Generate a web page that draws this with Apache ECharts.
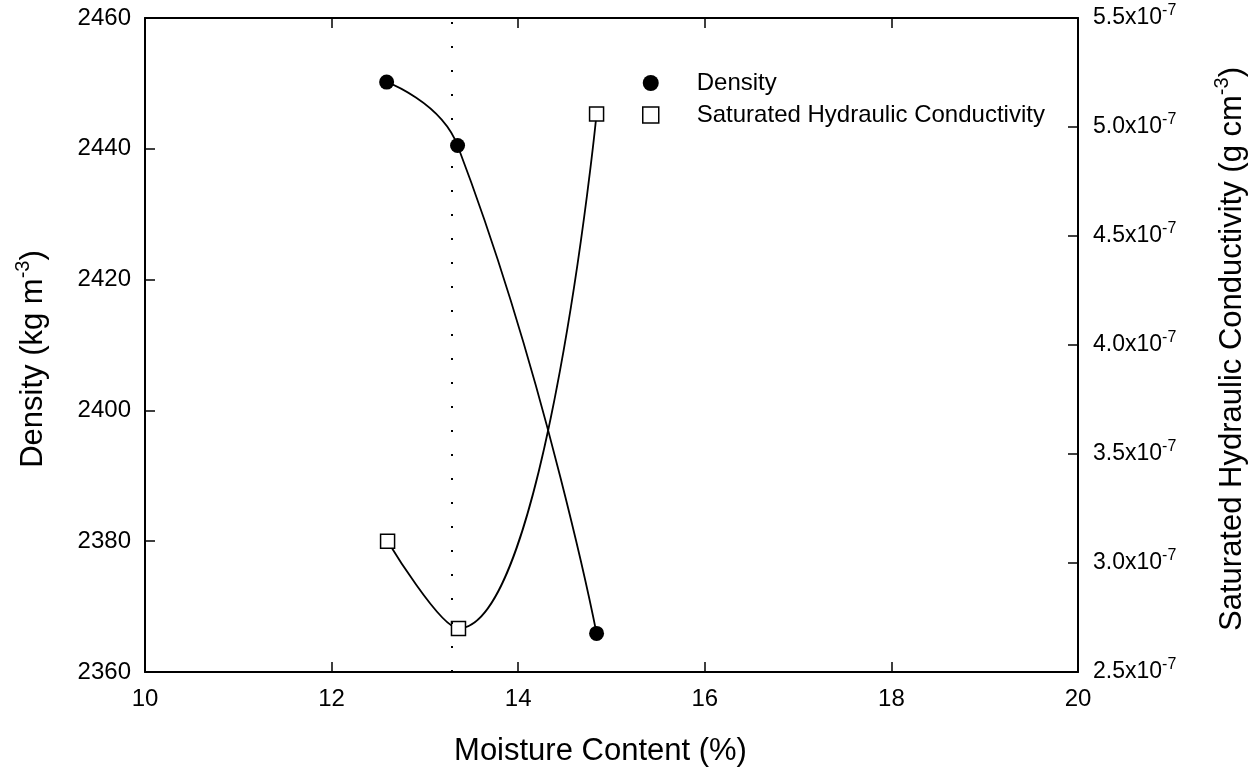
<!DOCTYPE html>
<html lang="en">
<head>
    <meta charset="UTF-8">
    <title>Density and Conductivity</title>
    <script src="https://cdn.jsdelivr.net/npm/echarts@6/dist/echarts.min.js"></script>
    <style>
        body { margin: 0; background: #fff; }
        #main { width: 1252px; height: 772px; }
    </style>
</head>
<body>
    <div id="main"></div>
    <script>
        var densityMoisture = [12.59, 13.35, 14.84];
        var density = [2450.2, 2440.5, 2365.9];
        var conductivityMoisture = [12.60, 13.36, 14.84];
        var conductivity = [3.10e-7, 2.70e-7, 5.06e-7];
        var optimumMoisture = 13.29;
        var xTicks = [10, 12, 14, 16, 18, 20];
        var densityTicks = [2360, 2380, 2400, 2420, 2440, 2460];
        var conductivityTicks = [2.5e-7, 3.0e-7, 3.5e-7, 4.0e-7, 4.5e-7, 5.0e-7, 5.5e-7];

        var font = '"Liberation Sans", Arial, sans-serif';
        var black = '#000';

        function pairs(xs, ys) {
            var out = [];
            for (var i = 0; i < xs.length; i++) {
                out.push([xs[i], ys[i]]);
            }
            return out;
        }

        function initChart() {
            var mychart = echarts.init(document.getElementById('main'));
            var axisLine = { show: true, lineStyle: { color: black, width: 2 } };
            var axisTick = { show: true, inside: true, length: 10, lineStyle: { color: black, width: 1.5 } };
            var labelRich = {
                a: { fontSize: 23, fontFamily: font, color: black, lineHeight: 30 },
                s: { fontSize: 16, fontFamily: font, color: black, lineHeight: 16, verticalAlign: 'top' }
            };
            var nameRich = {
                a: { fontSize: 31, fontFamily: font, color: black, lineHeight: 40 },
                s: { fontSize: 20, fontFamily: font, color: black, lineHeight: 20, verticalAlign: 'top' }
            };

            var option = {
                animation: false,
                backgroundColor: '#fff',
                grid: { left: 145, right: 174, top: 18, bottom: 100, outerBoundsMode: 'none' },
                legend: {
                    orient: 'vertical',
                    left: 637,
                    top: 66,
                    itemWidth: 16,
                    itemHeight: 16,
                    itemGap: 8,
                    textStyle: { fontSize: 24, fontFamily: font, color: black, padding: [0, 0, 0, 33] },
                    data: [
                        { name: 'Density', icon: 'circle', itemStyle: { color: black } },
                        { name: 'Saturated Hydraulic Conductivity', icon: 'rect',
                          itemStyle: { color: '#fff', borderColor: black, borderWidth: 1.5 } }
                    ]
                },
                xAxis: [{
                    type: 'value',
                    position: 'bottom',
                    min: xTicks[0],
                    max: xTicks[xTicks.length - 1],
                    interval: 2,
                    name: 'Moisture Content (%)',
                    nameLocation: 'middle',
                    nameGap: 64,
                    nameTextStyle: { fontSize: 31, fontFamily: font, color: black, padding: [0, 22, 0, 0] },
                    axisLine: axisLine,
                    axisTick: axisTick,
                    axisLabel: { margin: 15, fontSize: 24, fontFamily: font, color: black },
                    splitLine: { show: false }
                }, {
                    type: 'value',
                    position: 'top',
                    min: xTicks[0],
                    max: xTicks[xTicks.length - 1],
                    interval: 2,
                    axisLine: axisLine,
                    axisTick: axisTick,
                    axisLabel: { show: false },
                    splitLine: { show: false }
                }],
                yAxis: [{
                    type: 'value',
                    position: 'left',
                    min: densityTicks[0],
                    max: densityTicks[densityTicks.length - 1],
                    interval: 20,
                    name: '{a|Density (kg m}{s|-3}{a|)}',
                    nameLocation: 'middle',
                    nameGap: 92,
                    nameTextStyle: { rich: nameRich, padding: [0, 28, 0, 0] },
                    axisLine: axisLine,
                    axisTick: axisTick,
                    axisLabel: {
                        margin: 14, fontSize: 24, fontFamily: font, color: black,
                        formatter: function (v) { return String(v); }
                    },
                    splitLine: { show: false }
                }, {
                    type: 'value',
                    position: 'right',
                    min: conductivityTicks[0],
                    max: conductivityTicks[conductivityTicks.length - 1],
                    interval: 0.5e-7,
                    name: '{a|Saturated Hydraulic Conductivity (g cm}{s|-3}{a|)}',
                    nameLocation: 'middle',
                    nameGap: 134,
                    nameTextStyle: { rich: nameRich, padding: [0, 8, 0, 0] },
                    axisLine: axisLine,
                    axisTick: axisTick,
                    axisLabel: {
                        margin: 15,
                        formatter: function (v) {
                            return '{a|' + (v * 1e7).toFixed(1) + 'x10}{s|-7}';
                        },
                        rich: labelRich
                    },
                    splitLine: { show: false }
                }],
                series: [{
                    name: 'Density',
                    type: 'line',
                    xAxisIndex: 0,
                    yAxisIndex: 0,
                    data: pairs(densityMoisture, density),
                    smooth: 0.5,
                    symbol: 'circle',
                    symbolSize: 15,
                    itemStyle: { color: black },
                    lineStyle: { color: black, width: 1.8 },
                    markLine: {
                        silent: true,
                        symbol: 'none',
                        label: { show: false },
                        lineStyle: { color: black, width: 2, type: [2, 22] },
                        data: [{ xAxis: optimumMoisture }]
                    },
                    z: 3
                }, {
                    name: 'Saturated Hydraulic Conductivity',
                    type: 'line',
                    xAxisIndex: 0,
                    yAxisIndex: 1,
                    data: pairs(conductivityMoisture, conductivity),
                    smooth: 0.5,
                    symbol: 'rect',
                    symbolSize: 14,
                    itemStyle: { color: '#fff', borderColor: black, borderWidth: 1.5 },
                    lineStyle: { color: black, width: 1.8 },
                    z: 3
                }]
            };
            mychart.setOption(option);
        }

        initChart();
    </script>
</body>
</html>
